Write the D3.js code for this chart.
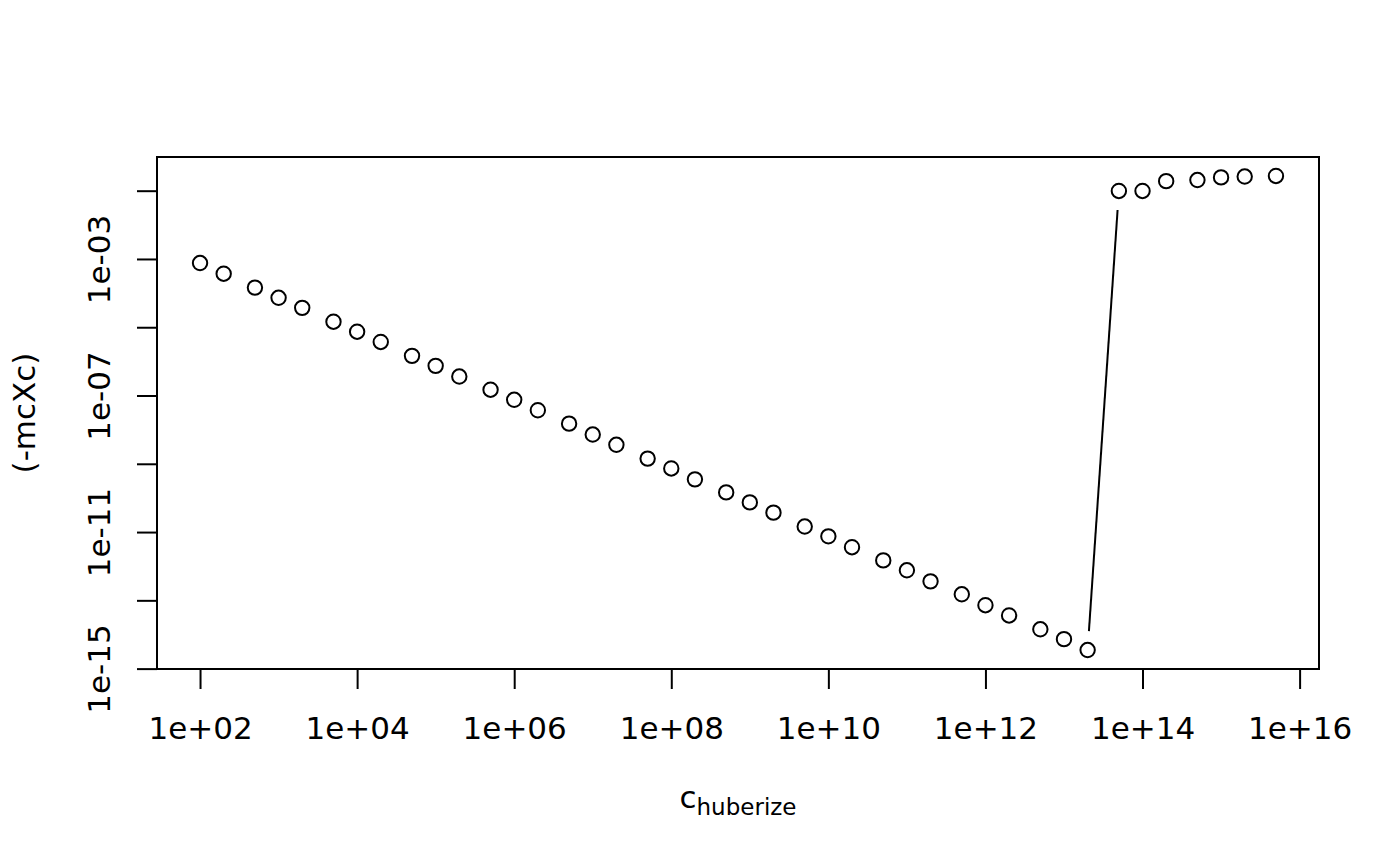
<!DOCTYPE html>
<html>
<head>
<meta charset="utf-8">
<script src="https://cdn.jsdelivr.net/npm/d3@7"></script>
<style>
  body { margin: 0; background: #fff; }
  text { font-family: "DejaVu Sans", sans-serif; fill: #000; }
</style>
</head>
<body>
<div id="vis"></div>
<script>
// values
var cValues = [
  1e2, 2e2, 5e2, 1e3, 2e3, 5e3, 1e4, 2e4, 5e4, 1e5, 2e5, 5e5,
  1e6, 2e6, 5e6, 1e7, 2e7, 5e7, 1e8, 2e8, 5e8, 1e9, 2e9, 5e9,
  1e10, 2e10, 5e10, 1e11, 2e11, 5e11, 1e12, 2e12, 5e12, 1e13, 2e13,
  5e13, 1e14, 2e14, 5e14, 1e15, 2e15, 5e15
];
var mcXcValues = [
  7.6e-4, 3.7e-4, 1.45e-4, 7.3e-5, 3.7e-5, 1.45e-5, 7.4e-6, 3.7e-6, 1.45e-6, 7.4e-7, 3.6e-7, 1.48e-7,
  7.5e-8, 3.7e-8, 1.5e-8, 7.2e-9, 3.6e-9, 1.42e-9, 7.3e-10, 3.5e-10, 1.45e-10, 7.4e-11, 3.7e-11, 1.45e-11,
  7.5e-12, 3.6e-12, 1.48e-12, 7.6e-13, 3.6e-13, 1.5e-13, 7.2e-14, 3.6e-14, 1.42e-14, 7.3e-15, 3.5e-15,
  0.098, 0.098, 0.19, 0.205, 0.245, 0.26, 0.27
];
var xTicks = [1e2, 1e4, 1e6, 1e8, 1e10, 1e12, 1e14, 1e16];
var xTickLabels = ['1e+02', '1e+04', '1e+06', '1e+08', '1e+10', '1e+12', '1e+14', '1e+16'];
var yTicks = [1e-15, 1e-13, 1e-11, 1e-9, 1e-7, 1e-5, 1e-3, 1e-1];
var yTickLabels = ['1e-15', '', '1e-11', '', '1e-07', '', '1e-03', ''];

var width = 1400;
var height = 866;
var margin = { top: 157, left: 157, bottom: 197, right: 81 };

var data = cValues.map(function (c, i) { return { c: c, v: mcXcValues[i] }; });

// R style: extend the log range by 4% on each side
function padLog(ext) {
  var a = Math.log10(ext[0]), b = Math.log10(ext[1]);
  var p = (b - a) * 0.04;
  return [Math.pow(10, a - p), Math.pow(10, b + p)];
}

var x = d3.scaleLog()
  .domain(padLog(d3.extent(cValues)))
  .range([margin.left, width - margin.right]);
var y = d3.scaleLog()
  .domain(padLog(d3.extent(mcXcValues)))
  .range([height - margin.bottom, margin.top]);

var svg = d3.select('#vis')
  .append('svg')
  .attr('width', width)
  .attr('height', height);

// x axis
var xAxis = d3.axisBottom(x)
  .tickValues(xTicks)
  .tickFormat(function (d, i) { return xTickLabels[i]; })
  .tickSize(20)
  .tickSizeOuter(0)
  .tickPadding(12);
var gx = svg.append('g')
  .attr('transform', 'translate(0,' + (height - margin.bottom) + ')')
  .call(xAxis);
gx.select('.domain')
  .attr('d', 'M' + x(xTicks[0]) + ',0H' + x(xTicks[xTicks.length - 1]));
gx.selectAll('.tick line').attr('stroke-width', 2);
gx.select('.domain').attr('stroke-width', 2);
gx.selectAll('.tick text')
  .attr('font-size', 31)
  .attr('dy', null)
  .attr('y', 70);

// y axis
var yAxis = d3.axisLeft(y)
  .tickValues(yTicks)
  .tickFormat(function (d, i) { return yTickLabels[i]; })
  .tickSize(20)
  .tickSizeOuter(0);
var gy = svg.append('g')
  .attr('transform', 'translate(' + margin.left + ',0)')
  .call(yAxis);
gy.select('.domain')
  .attr('d', 'M0,' + y(yTicks[0]) + 'V' + y(yTicks[yTicks.length - 1]));
gy.selectAll('.tick line').attr('stroke-width', 2);
gy.select('.domain').attr('stroke-width', 2);
gy.selectAll('.tick text')
  .attr('font-size', 31)
  .attr('x', null)
  .attr('dy', null)
  .attr('text-anchor', 'middle')
  .attr('transform', 'translate(-47,0) rotate(-90)');

svg.selectAll('.tick text').style('font-family', '"DejaVu Sans", sans-serif');

// plot box
svg.append('rect')
  .attr('x', margin.left)
  .attr('y', margin.top)
  .attr('width', width - margin.left - margin.right)
  .attr('height', height - margin.top - margin.bottom)
  .attr('fill', 'none')
  .attr('stroke', '#000')
  .attr('stroke-width', 2);

// type = "b": line segments with gaps around points
var gap = 19;
var segs = [];
for (var i = 1; i < data.length; i++) {
  var x0 = x(data[i - 1].c), y0 = y(data[i - 1].v);
  var x1 = x(data[i].c), y1 = y(data[i].v);
  var L = Math.hypot(x1 - x0, y1 - y0);
  if (L > 2 * gap) {
    var ux = (x1 - x0) / L, uy = (y1 - y0) / L;
    segs.push([x0 + ux * gap, y0 + uy * gap, x1 - ux * gap, y1 - uy * gap]);
  }
}
svg.selectAll('line.seg')
  .data(segs).enter()
  .append('line')
  .attr('class', 'seg')
  .attr('x1', function (d) { return d[0]; })
  .attr('y1', function (d) { return d[1]; })
  .attr('x2', function (d) { return d[2]; })
  .attr('y2', function (d) { return d[3]; })
  .attr('stroke', '#000')
  .attr('stroke-width', 2);

svg.selectAll('circle.pt')
  .data(data).enter()
  .append('circle')
  .attr('class', 'pt')
  .attr('cx', function (d) { return x(d.c); })
  .attr('cy', function (d) { return y(d.v); })
  .attr('r', 7.2)
  .attr('fill', 'none')
  .attr('stroke', '#000')
  .attr('stroke-width', 2);

// axis titles
var xt = svg.append('text')
  .attr('x', (margin.left + width - margin.right) / 2)
  .attr('y', 808)
  .attr('text-anchor', 'middle')
  .attr('font-size', 31);
xt.append('tspan').text('c');
xt.append('tspan')
  .attr('font-size', 23)
  .attr('dy', 7)
  .text('huberize');

svg.append('text')
  .attr('transform', 'translate(35,' + ((margin.top + height - margin.bottom) / 2) + ') rotate(-90)')
  .attr('text-anchor', 'middle')
  .attr('font-size', 31)
  .text('(-mcXc)');
</script>
</body>
</html>
